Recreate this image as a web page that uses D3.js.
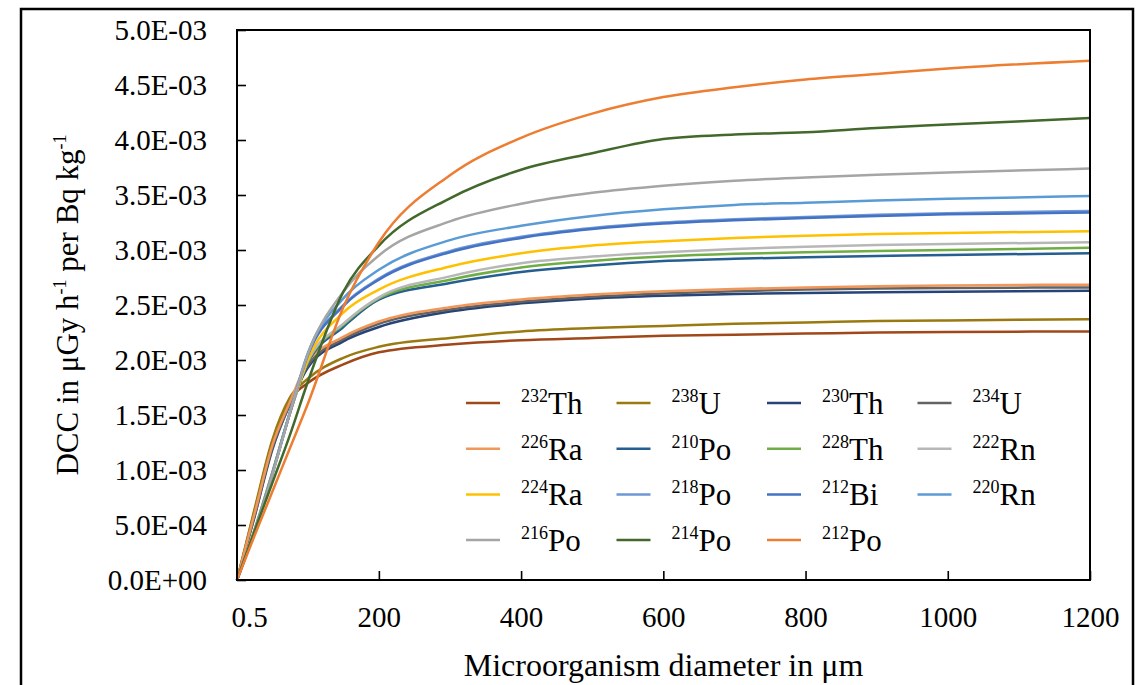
<!DOCTYPE html>
<html>
<head>
<meta charset="utf-8">
<script src="https://cdn.jsdelivr.net/npm/d3@7"></script>
<style>
  body { margin: 0; background: #fff; }
  svg { display: block; font-family: 'Liberation Serif', 'Times New Roman', serif; }
</style>
</head>
<body>
<svg id="chart" width="1145" height="685"></svg>
<script>
// diameters in um, values in units of 1E-03 uGy h-1 per Bq kg-1
const diameters = [0.5, 25, 50, 75, 100, 150, 200, 300, 400, 500, 600, 700, 800, 900, 1000, 1200];

const th232 = [0, 0.62, 1.25, 1.64, 1.79, 1.96, 2.07, 2.14, 2.18, 2.20, 2.22, 2.23, 2.24, 2.25, 2.255, 2.26];
const u238  = [0, 0.64, 1.27, 1.66, 1.83, 2.02, 2.12, 2.20, 2.26, 2.29, 2.31, 2.33, 2.34, 2.355, 2.36, 2.37];
const th230 = [0, 0.57, 1.18, 1.60, 1.93, 2.17, 2.30, 2.44, 2.515, 2.56, 2.585, 2.60, 2.61, 2.615, 2.62, 2.63];
const u234  = [0, 0.58, 1.20, 1.60, 1.95, 2.19, 2.33, 2.46, 2.53, 2.575, 2.605, 2.625, 2.64, 2.65, 2.655, 2.66];
const ra226 = [0, 0.60, 1.22, 1.62, 1.98, 2.21, 2.35, 2.48, 2.55, 2.595, 2.625, 2.645, 2.66, 2.67, 2.678, 2.685];
const po210 = [0, 0.45, 0.97, 1.52, 1.97, 2.30, 2.55, 2.70, 2.80, 2.86, 2.90, 2.92, 2.935, 2.945, 2.955, 2.97];
const th228 = [0, 0.45, 0.97, 1.52, 1.98, 2.32, 2.56, 2.73, 2.84, 2.90, 2.94, 2.965, 2.98, 2.99, 3.00, 3.02];
const rn222 = [0, 0.45, 0.97, 1.52, 1.99, 2.33, 2.57, 2.76, 2.88, 2.94, 2.98, 3.01, 3.03, 3.045, 3.055, 3.07];
const ra224 = [0, 0.45, 0.97, 1.52, 2.00, 2.43, 2.64, 2.85, 2.97, 3.04, 3.08, 3.11, 3.13, 3.145, 3.155, 3.17];
const po218 = [0, 0.44, 0.96, 1.52, 2.05, 2.50, 2.74, 2.99, 3.12, 3.20, 3.25, 3.28, 3.30, 3.32, 3.335, 3.355];
const bi212 = [0, 0.44, 0.96, 1.52, 2.04, 2.49, 2.73, 2.98, 3.11, 3.19, 3.24, 3.27, 3.29, 3.31, 3.325, 3.34];
const rn220 = [0, 0.44, 0.96, 1.53, 2.06, 2.56, 2.82, 3.09, 3.22, 3.31, 3.37, 3.41, 3.43, 3.45, 3.465, 3.49];
const po216 = [0, 0.43, 0.95, 1.52, 2.05, 2.62, 2.95, 3.26, 3.42, 3.52, 3.585, 3.63, 3.66, 3.685, 3.705, 3.74];
const po214 = [0, 0.44, 0.88, 1.32, 1.80, 2.62, 3.04, 3.47, 3.73, 3.88, 4.01, 4.05, 4.07, 4.11, 4.14, 4.20];
const po212 = [0, 0.40, 0.80, 1.20, 1.60, 2.48, 3.07, 3.68, 4.02, 4.24, 4.39, 4.48, 4.55, 4.60, 4.65, 4.72];

const isotopes = [
  ['232', 'Th', th232], ['238', 'U', u238], ['230', 'Th', th230], ['234', 'U', u234],
  ['226', 'Ra', ra226], ['210', 'Po', po210], ['228', 'Th', th228], ['222', 'Rn', rn222],
  ['224', 'Ra', ra224], ['218', 'Po', po218], ['212', 'Bi', bi212], ['220', 'Rn', rn220],
  ['216', 'Po', po216], ['214', 'Po', po214], ['212', 'Po', po212]
];
const colors = ['#a0481a', '#9a7a10', '#264478', '#636363',
                '#f1975a', '#255e91', '#70ad47', '#b7b7b7',
                '#ffc000', '#6f97d6', '#4472c4', '#5b9bd5',
                '#a5a5a5', '#43682b', '#ed7d31'];

const xTicks = [0.5, 200, 400, 600, 800, 1000, 1200];
const yTicks = [0, 0.5, 1.0, 1.5, 2.0, 2.5, 3.0, 3.5, 4.0, 4.5, 5.0];
const unit = 1e-3;

// scientific labels like 5.0E-03
function sci(v) {
  const val = v * unit;
  if (val === 0) return '0.0E+00';
  const e = Math.floor(Math.log10(val) + 1e-9);
  const m = val / Math.pow(10, e);
  return m.toFixed(1) + 'E' + (e < 0 ? '-' : '+') + String(Math.abs(e)).padStart(2, '0');
}

const plotL = 237, plotR = 1090, plotT = 30, plotB = 580;
const svg = d3.select('#chart');

// outer border
svg.append('rect')
  .attr('x', 21).attr('y', 9).attr('width', 1112).attr('height', 690)
  .attr('fill', 'none').attr('stroke', '#000').attr('stroke-width', 2.5);

const x = d3.scaleLinear().domain([0.5, 1200]).range([plotL, plotR]);
const y = d3.scaleLinear().domain([0, 5]).range([plotB, plotT]);

// axes
const xAxis = svg.append('g')
  .attr('transform', 'translate(0,' + plotB + ')')
  .call(d3.axisBottom(x).tickValues(xTicks).tickSize(-9).tickPadding(26)
    .tickFormat(d => d === 0.5 ? '0.5' : d3.format('d')(d)));
const yAxis = svg.append('g')
  .attr('transform', 'translate(' + plotL + ',0)')
  .call(d3.axisLeft(y).tickValues(yTicks).tickSize(-9).tickPadding(30).tickFormat(sci));

[xAxis, yAxis].forEach(g => {
  g.select('.domain').remove();
  g.selectAll('.tick line').attr('stroke', '#000').attr('stroke-width', 1.6);
  g.selectAll('.tick text')
    .attr('fill', '#000')
    .style('font-family', "'Liberation Serif', 'Times New Roman', serif")
    .style('font-size', '29px');
});
// first category label sits right of its tick, as in the original
xAxis.select('.tick text').attr('dx', 12);

// lines
const line = d3.line()
  .x((d, i) => x(diameters[i]))
  .y(d => y(d))
  .curve(d3.curveMonotoneX);

svg.append('g').selectAll('path')
  .data(isotopes)
  .join('path')
    .attr('fill', 'none')
    .attr('stroke', (d, i) => colors[i])
    .attr('stroke-width', 2.5)
    .attr('d', d => line(d[2]));

// plot frame
svg.append('rect')
  .attr('x', plotL).attr('y', plotT).attr('width', plotR - plotL).attr('height', plotB - plotT)
  .attr('fill', 'none').attr('stroke', '#000').attr('stroke-width', 2);

// axis titles
svg.append('text')
  .attr('x', (plotL + plotR) / 2).attr('y', 676)
  .attr('text-anchor', 'middle')
  .attr('font-size', 32)
  .text('Microorganism diameter in μm');

const yt = svg.append('text')
  .attr('transform', 'translate(78,' + ((plotT + plotB) / 2) + ') rotate(-90)')
  .attr('text-anchor', 'middle')
  .attr('font-size', 31);
yt.append('tspan').text('DCC in μGy h');
yt.append('tspan').attr('font-size', 18).attr('dy', -12).text('-1');
yt.append('tspan').attr('dy', 12).text(' per Bq kg');
yt.append('tspan').attr('font-size', 18).attr('dy', -12).text('-1');

// legend
const legend = svg.append('g');
isotopes.forEach((d, i) => {
  const lx = 466 + (i % 4) * 150.5;
  const ly = 403 + Math.floor(i / 4) * 45.7;
  legend.append('line')
    .attr('x1', lx).attr('x2', lx + 34).attr('y1', ly).attr('y2', ly)
    .attr('stroke', colors[i]).attr('stroke-width', 2.5);
  const t = legend.append('text')
    .attr('x', lx + 55).attr('y', ly + 11)
    .attr('font-size', 31);
  t.append('tspan').attr('font-size', 18).attr('dy', -12).text(d[0]);
  t.append('tspan').attr('dy', 12).text(d[1]);
});
</script>
</body>
</html>
